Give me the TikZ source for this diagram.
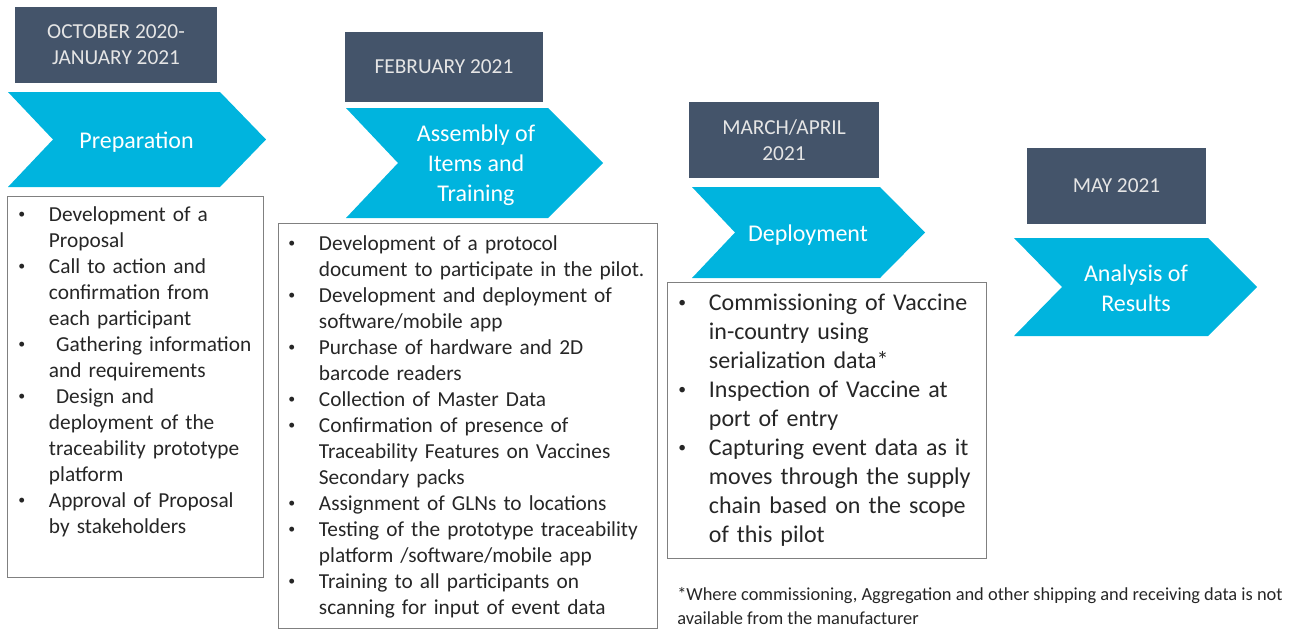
\documentclass[tikz,border=0pt]{standalone}
\usepackage{fontspec}
\setmainfont{Carlito}
\usepackage{tikz}
\usepackage{enumitem}
\definecolor{SlateDefault}{RGB}{68,84,106}
\definecolor{CyanDefault}{RGB}{0,180,222}
\definecolor{TextDefault}{RGB}{38,38,38}
\definecolor{FrameDefault}{RGB}{128,128,128}
\newcommand{\smallbullet}{\raisebox{0.12em}{\scalebox{0.65}{\textbullet}}}
\newlist{steps}{itemize}{1}
\setlist[steps]{label=\smallbullet, leftmargin=23pt, labelwidth=23pt, labelsep=0pt, labelindent=0pt, align=left, itemsep=0pt, parsep=0pt, topsep=0pt, partopsep=0pt}
\tikzset{
  datebox/.style={fill=SlateDefault, text=white!90!black, align=center, inner sep=0.75pt, font=\fontsize{16}{19.5}\selectfont},
  phase/.style={fill=CyanDefault, draw=none},
  phasetext/.style={text=white, align=center, inner sep=0.75pt, font=\fontsize{18}{22.5}\selectfont},
  listframe/.style={draw=FrameDefault, line width=0.75pt},
  listtext/.style={anchor=north west, inner sep=0pt, text=TextDefault, align=left},
}

\begin{document}
\begin{tikzpicture}[x=0.75pt,y=0.75pt,yscale=-1,xscale=1]
\useasboundingbox (0,0) rectangle (1296,629);

%Date boxes
\node [datebox, minimum width=151.5pt, minimum height=57pt] (oct) at (116,45) {OCTOBER 2020-\\JANUARY 2021};
\node [datebox, minimum width=148.5pt, minimum height=52.5pt] (feb) at (444,67) {FEBRUARY 2021};
\node [datebox, minimum width=142.5pt, minimum height=57pt] (mar) at (784,140) {MARCH/APRIL\\2021};
\node [datebox, minimum width=134.25pt, minimum height=57pt] (may) at (1116.5,186) {MAY 2021};

%Shape: Chevrons
\fill [phase] (8,92) -- (220,92) -- (266,139.5) -- (220,187) -- (8,187) -- (53,139.5) -- cycle ;
\fill [phase] (346,108) -- (548,108) -- (603,163) -- (548,218) -- (346,218) -- (398,163) -- cycle ;
\fill [phase] (692,187) -- (880,187) -- (925,232.5) -- (880,278) -- (692,278) -- (735,232.5) -- cycle ;
\fill [phase] (1014,238) -- (1208,238) -- (1257,287) -- (1208,336) -- (1014,336) -- (1062,287) -- cycle ;

% Text Node
\node [phasetext] (prep) at (136.5,142) {Preparation};
% Text Node
\node [phasetext] (assembly) at (476,165) {Assembly of\\Items and\\Training};
% Text Node
\node [phasetext] (deploy) at (808,235) {Deployment};
% Text Node
\node [phasetext] (analysis) at (1136,288.5) {Analysis of\\Results};

%Shape: Rectangles
\draw [listframe] (7,196) rectangle (263,577) ;
\draw [listframe] (278,223) rectangle (657,628) ;
\draw [listframe] (667,282) rectangle (986,558) ;

% Text Node
\node [listtext, text width=180pt, font=\fontsize{16}{19.5}\selectfont] (preplist) at (18,195) {%
\begin{steps}
\item Development of a\\Proposal
\item Call to action and\\confirmation from\\each participant
\item \ Gathering information\\and requirements
\item \ Design and\\deployment of the\\traceability prototype\\platform
\item Approval of Proposal\\by stakeholders
\end{steps}};
% Text Node
\node [listtext, text width=272pt, font=\fontsize{16}{19.5}\selectfont] (assemblylist) at (288,224) {%
\begin{steps}
\item Development of a protocol\\document to participate in the pilot.
\item Development and deployment of\\software/mobile app
\item Purchase of hardware and 2D\\barcode readers
\item Collection of Master Data
\item Confirmation of presence of\\Traceability Features on Vaccines\\Secondary packs
\item Assignment of GLNs to locations
\item Testing of the prototype traceability\\platform /software/mobile app
\item Training to all participants on\\scanning for input of event data
\end{steps}};
% Text Node
\node [listtext, text width=228pt, font=\fontsize{18}{21.75}\selectfont] (deploylist) at (678,281) {%
\begin{steps}
\item Commissioning of Vaccine\\in-country using\\serialization data*
\item Inspection of Vaccine at\\port of entry
\item Capturing event data as it\\moves through the supply\\chain based on the scope\\of this pilot
\end{steps}};

% Text Node
\node [listtext, font=\fontsize{13.8}{18}\selectfont] (footnote) at (677,587) {*Where commissioning, Aggregation and other shipping and receiving data is not\\available from the manufacturer};

\end{tikzpicture}
\end{document}
